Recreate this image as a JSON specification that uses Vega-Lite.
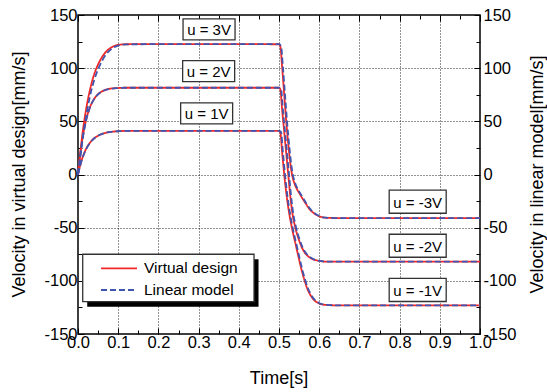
{
  "$schema": "https://vega.github.io/schema/vega-lite/v6.json",
  "width": 402,
  "height": 319,
  "autosize": {"type": "none"},
  "padding": {"left": 78, "top": 15, "right": 67, "bottom": 58},
  "background": "white",
  "config": {
    "font": "Liberation Sans",
    "view": {"stroke": "black", "strokeWidth": 1.5},
    "axis": {
      "labelFont": "Liberation Sans",
      "titleFont": "Liberation Sans",
      "labelColor": "black",
      "titleColor": "black",
      "tickColor": "black",
      "titleFontWeight": "normal",
      "labelFontSize": 16.5,
      "titleFontSize": 18,
      "domain": false,
      "labelFlush": false,
      "labelOverlap": false,
      "tickWidth": 1
    },
    "legend": {
      "labelFont": "Liberation Sans",
      "labelFontSize": 15.5,
      "labelColor": "black"
    }
  },
  "datasets": {
    "curves": [
      {"m":"Virtual design","c":"A","t":0,"v":0},{"m":"Virtual design","c":"A","t":0.005,"v":18},{"m":"Virtual design","c":"A","t":0.01,"v":35},{"m":"Virtual design","c":"A","t":0.02,"v":61},{"m":"Virtual design","c":"A","t":0.03,"v":80},{"m":"Virtual design","c":"A","t":0.04,"v":94},{"m":"Virtual design","c":"A","t":0.05,"v":103.5},{"m":"Virtual design","c":"A","t":0.06,"v":110.5},{"m":"Virtual design","c":"A","t":0.07,"v":115.5},{"m":"Virtual design","c":"A","t":0.08,"v":118.8},{"m":"Virtual design","c":"A","t":0.09,"v":120.8},{"m":"Virtual design","c":"A","t":0.1,"v":121.9},{"m":"Virtual design","c":"A","t":0.12,"v":122.5},{"m":"Virtual design","c":"A","t":0.2,"v":122.6},{"m":"Virtual design","c":"A","t":0.5,"v":122.5},{"m":"Virtual design","c":"A","t":0.503,"v":121},{"m":"Virtual design","c":"A","t":0.508,"v":100},{"m":"Virtual design","c":"A","t":0.513,"v":75},{"m":"Virtual design","c":"A","t":0.518,"v":50},{"m":"Virtual design","c":"A","t":0.524,"v":25},{"m":"Virtual design","c":"A","t":0.529,"v":8},{"m":"Virtual design","c":"A","t":0.5335,"v":-2},{"m":"Virtual design","c":"A","t":0.539,"v":-9},{"m":"Virtual design","c":"A","t":0.545,"v":-14},{"m":"Virtual design","c":"A","t":0.552,"v":-18.5},{"m":"Virtual design","c":"A","t":0.565,"v":-26.5},{"m":"Virtual design","c":"A","t":0.577,"v":-33},{"m":"Virtual design","c":"A","t":0.59,"v":-37.3},{"m":"Virtual design","c":"A","t":0.6,"v":-39.3},{"m":"Virtual design","c":"A","t":0.615,"v":-40.6},{"m":"Virtual design","c":"A","t":0.65,"v":-41},{"m":"Virtual design","c":"A","t":1,"v":-41},
      {"m":"Virtual design","c":"B","t":0,"v":0},{"m":"Virtual design","c":"B","t":0.005,"v":17},{"m":"Virtual design","c":"B","t":0.01,"v":31},{"m":"Virtual design","c":"B","t":0.02,"v":51},{"m":"Virtual design","c":"B","t":0.03,"v":63.5},{"m":"Virtual design","c":"B","t":0.04,"v":71},{"m":"Virtual design","c":"B","t":0.05,"v":75.5},{"m":"Virtual design","c":"B","t":0.06,"v":78.2},{"m":"Virtual design","c":"B","t":0.07,"v":79.8},{"m":"Virtual design","c":"B","t":0.08,"v":80.7},{"m":"Virtual design","c":"B","t":0.1,"v":81.3},{"m":"Virtual design","c":"B","t":0.12,"v":81.6},{"m":"Virtual design","c":"B","t":0.5,"v":81.6},{"m":"Virtual design","c":"B","t":0.503,"v":80.5},{"m":"Virtual design","c":"B","t":0.508,"v":60},{"m":"Virtual design","c":"B","t":0.513,"v":40},{"m":"Virtual design","c":"B","t":0.518,"v":20},{"m":"Virtual design","c":"B","t":0.523,"v":0},{"m":"Virtual design","c":"B","t":0.528,"v":-20},{"m":"Virtual design","c":"B","t":0.534,"v":-38},{"m":"Virtual design","c":"B","t":0.54,"v":-49},{"m":"Virtual design","c":"B","t":0.55,"v":-62},{"m":"Virtual design","c":"B","t":0.56,"v":-71},{"m":"Virtual design","c":"B","t":0.572,"v":-76.8},{"m":"Virtual design","c":"B","t":0.585,"v":-79.8},{"m":"Virtual design","c":"B","t":0.6,"v":-81.3},{"m":"Virtual design","c":"B","t":0.615,"v":-81.9},{"m":"Virtual design","c":"B","t":0.65,"v":-82},{"m":"Virtual design","c":"B","t":1,"v":-82},
      {"m":"Virtual design","c":"C","t":0,"v":0},{"m":"Virtual design","c":"C","t":0.005,"v":8},{"m":"Virtual design","c":"C","t":0.01,"v":14.5},{"m":"Virtual design","c":"C","t":0.02,"v":24},{"m":"Virtual design","c":"C","t":0.03,"v":30},{"m":"Virtual design","c":"C","t":0.04,"v":34},{"m":"Virtual design","c":"C","t":0.05,"v":36.5},{"m":"Virtual design","c":"C","t":0.06,"v":38.2},{"m":"Virtual design","c":"C","t":0.07,"v":39.3},{"m":"Virtual design","c":"C","t":0.08,"v":40},{"m":"Virtual design","c":"C","t":0.1,"v":40.7},{"m":"Virtual design","c":"C","t":0.12,"v":41},{"m":"Virtual design","c":"C","t":0.5,"v":41},{"m":"Virtual design","c":"C","t":0.503,"v":40},{"m":"Virtual design","c":"C","t":0.508,"v":20},{"m":"Virtual design","c":"C","t":0.513,"v":0},{"m":"Virtual design","c":"C","t":0.519,"v":-20},{"m":"Virtual design","c":"C","t":0.526,"v":-38},{"m":"Virtual design","c":"C","t":0.532,"v":-50},{"m":"Virtual design","c":"C","t":0.541,"v":-65},{"m":"Virtual design","c":"C","t":0.55,"v":-80},{"m":"Virtual design","c":"C","t":0.557,"v":-91},{"m":"Virtual design","c":"C","t":0.563,"v":-99},{"m":"Virtual design","c":"C","t":0.57,"v":-107},{"m":"Virtual design","c":"C","t":0.58,"v":-114.5},{"m":"Virtual design","c":"C","t":0.59,"v":-119},{"m":"Virtual design","c":"C","t":0.6,"v":-121.3},{"m":"Virtual design","c":"C","t":0.615,"v":-122.6},{"m":"Virtual design","c":"C","t":0.64,"v":-123},{"m":"Virtual design","c":"C","t":1,"v":-123},
      {"m":"Linear model","c":"A","t":0,"v":0},{"m":"Linear model","c":"A","t":0.005,"v":14},{"m":"Linear model","c":"A","t":0.01,"v":29},{"m":"Linear model","c":"A","t":0.02,"v":54},{"m":"Linear model","c":"A","t":0.03,"v":74},{"m":"Linear model","c":"A","t":0.04,"v":88.5},{"m":"Linear model","c":"A","t":0.05,"v":99},{"m":"Linear model","c":"A","t":0.06,"v":107},{"m":"Linear model","c":"A","t":0.07,"v":113},{"m":"Linear model","c":"A","t":0.08,"v":117},{"m":"Linear model","c":"A","t":0.09,"v":119.8},{"m":"Linear model","c":"A","t":0.1,"v":121.3},{"m":"Linear model","c":"A","t":0.12,"v":122.3},{"m":"Linear model","c":"A","t":0.2,"v":122.6},{"m":"Linear model","c":"A","t":0.5,"v":122.6},{"m":"Linear model","c":"A","t":0.505,"v":121},{"m":"Linear model","c":"A","t":0.51,"v":100},{"m":"Linear model","c":"A","t":0.515,"v":75},{"m":"Linear model","c":"A","t":0.52,"v":50},{"m":"Linear model","c":"A","t":0.526,"v":25},{"m":"Linear model","c":"A","t":0.531,"v":8},{"m":"Linear model","c":"A","t":0.5355,"v":-2},{"m":"Linear model","c":"A","t":0.541,"v":-9},{"m":"Linear model","c":"A","t":0.547,"v":-14},{"m":"Linear model","c":"A","t":0.554,"v":-18.5},{"m":"Linear model","c":"A","t":0.567,"v":-26.5},{"m":"Linear model","c":"A","t":0.579,"v":-33},{"m":"Linear model","c":"A","t":0.592,"v":-37.3},{"m":"Linear model","c":"A","t":0.602,"v":-39.3},{"m":"Linear model","c":"A","t":0.617,"v":-40.6},{"m":"Linear model","c":"A","t":0.65,"v":-41},{"m":"Linear model","c":"A","t":1,"v":-41},
      {"m":"Linear model","c":"B","t":0,"v":0},{"m":"Linear model","c":"B","t":0.005,"v":16},{"m":"Linear model","c":"B","t":0.01,"v":30},{"m":"Linear model","c":"B","t":0.02,"v":50.5},{"m":"Linear model","c":"B","t":0.03,"v":63.2},{"m":"Linear model","c":"B","t":0.04,"v":70.9},{"m":"Linear model","c":"B","t":0.05,"v":75.4},{"m":"Linear model","c":"B","t":0.06,"v":78.1},{"m":"Linear model","c":"B","t":0.07,"v":79.7},{"m":"Linear model","c":"B","t":0.08,"v":80.6},{"m":"Linear model","c":"B","t":0.1,"v":81.3},{"m":"Linear model","c":"B","t":0.12,"v":81.6},{"m":"Linear model","c":"B","t":0.5,"v":81.6},{"m":"Linear model","c":"B","t":0.505,"v":80.5},{"m":"Linear model","c":"B","t":0.51,"v":60},{"m":"Linear model","c":"B","t":0.515,"v":40},{"m":"Linear model","c":"B","t":0.52,"v":20},{"m":"Linear model","c":"B","t":0.525,"v":0},{"m":"Linear model","c":"B","t":0.53,"v":-20},{"m":"Linear model","c":"B","t":0.536,"v":-38},{"m":"Linear model","c":"B","t":0.542,"v":-49},{"m":"Linear model","c":"B","t":0.552,"v":-62},{"m":"Linear model","c":"B","t":0.562,"v":-71},{"m":"Linear model","c":"B","t":0.574,"v":-76.8},{"m":"Linear model","c":"B","t":0.587,"v":-79.8},{"m":"Linear model","c":"B","t":0.602,"v":-81.3},{"m":"Linear model","c":"B","t":0.617,"v":-81.9},{"m":"Linear model","c":"B","t":0.65,"v":-82},{"m":"Linear model","c":"B","t":1,"v":-82},
      {"m":"Linear model","c":"C","t":0,"v":0},{"m":"Linear model","c":"C","t":0.005,"v":7.5},{"m":"Linear model","c":"C","t":0.01,"v":14},{"m":"Linear model","c":"C","t":0.02,"v":23.6},{"m":"Linear model","c":"C","t":0.03,"v":29.8},{"m":"Linear model","c":"C","t":0.04,"v":33.9},{"m":"Linear model","c":"C","t":0.05,"v":36.5},{"m":"Linear model","c":"C","t":0.06,"v":38.2},{"m":"Linear model","c":"C","t":0.07,"v":39.3},{"m":"Linear model","c":"C","t":0.08,"v":40},{"m":"Linear model","c":"C","t":0.1,"v":40.7},{"m":"Linear model","c":"C","t":0.12,"v":41},{"m":"Linear model","c":"C","t":0.5,"v":41},{"m":"Linear model","c":"C","t":0.505,"v":40},{"m":"Linear model","c":"C","t":0.51,"v":20},{"m":"Linear model","c":"C","t":0.515,"v":0},{"m":"Linear model","c":"C","t":0.521,"v":-20},{"m":"Linear model","c":"C","t":0.528,"v":-38},{"m":"Linear model","c":"C","t":0.534,"v":-50},{"m":"Linear model","c":"C","t":0.543,"v":-65},{"m":"Linear model","c":"C","t":0.552,"v":-80},{"m":"Linear model","c":"C","t":0.559,"v":-91},{"m":"Linear model","c":"C","t":0.565,"v":-99},{"m":"Linear model","c":"C","t":0.572,"v":-107},{"m":"Linear model","c":"C","t":0.582,"v":-114.5},{"m":"Linear model","c":"C","t":0.592,"v":-119},{"m":"Linear model","c":"C","t":0.602,"v":-121.3},{"m":"Linear model","c":"C","t":0.617,"v":-122.6},{"m":"Linear model","c":"C","t":0.64,"v":-123},{"m":"Linear model","c":"C","t":1,"v":-123}
    ],
    "labels": [
      {"label": "u = 3V", "t": 0.326, "v": 136.4},
      {"label": "u = 2V", "t": 0.325, "v": 97.3},
      {"label": "u = 1V", "t": 0.32, "v": 57.4},
      {"label": "u = -3V", "t": 0.845, "v": -25.6},
      {"label": "u = -2V", "t": 0.845, "v": -67},
      {"label": "u = -1V", "t": 0.845, "v": -108.6}
    ],
    "legendbox": [{"t": 0.2248, "v": -97.3}]
  },
  "layer": [
    {
      "data": {"name": "curves"},
      "mark": {"type": "line", "interpolate": "monotone", "strokeWidth": 1.8},
      "encoding": {
        "x": {
          "field": "t", "type": "quantitative",
          "scale": {"domain": [0, 1], "nice": false, "zero": false},
          "axis": {
            "orient": "bottom",
            "values": [0,0.05,0.1,0.15,0.2,0.25,0.3,0.35,0.4,0.45,0.5,0.55,0.6,0.65,0.7,0.75,0.8,0.85,0.9,0.95,1],
            "grid": true,
            "gridColor": "black",
            "gridDash": [1, 2],
            "gridWidth": 1,
            "gridOpacity": {"condition": {"test": "round(datum.value*20)%2===0 && datum.value>0.01 && datum.value<0.99", "value": 0.85}, "value": 0},
            "tickSize": {"condition": {"test": "round(datum.value*20)%2===0", "value": -6}, "value": -4},
            "labelExpr": "round(datum.value*20)%2===0 ? format(datum.value,'.1f') : ''",
            "labelPadding": 6,
            "title": "Time[s]",
            "titleX": 200.5,
            "titleY": 49,
            "titleBaseline": "alphabetic",
            "titleAlign": "center"
          }
        },
        "y": {
          "field": "v", "type": "quantitative",
          "scale": {"domain": [-150, 150], "nice": false, "zero": false},
          "axis": {
            "orient": "left",
            "values": [-150,-125,-100,-75,-50,-25,0,25,50,75,100,125,150],
            "grid": true,
            "gridColor": "black",
            "gridDash": [1, 2],
            "gridWidth": 1,
            "gridOpacity": {"condition": {"test": "datum.value%50===0 && abs(datum.value)<149", "value": 0.85}, "value": 0},
            "tickSize": {"condition": {"test": "datum.value%50===0", "value": -6}, "value": -4},
            "labelExpr": "datum.value%50===0 ? '' + datum.value : ''",
            "labelPadding": 7,
            "title": "Velocity in virtual design[mm/s]",
            "titleAngle": 270,
            "titleX": -54,
            "titleY": 159,
            "titleBaseline": "alphabetic",
            "titleAlign": "center"
          }
        },
        "color": {
          "field": "m", "type": "nominal",
          "scale": {"domain": ["Virtual design", "Linear model"], "range": ["#f02828", "#3f55b0"]},
          "legend": {
            "orient": "none",
            "legendX": 22,
            "legendY": 245.3,
            "title": null,
            "symbolType": "stroke",
            "symbolSize": 1296,
            "symbolStrokeWidth": 1.8,
            "labelOffset": 6,
            "clipHeight": 16,
            "rowPadding": 4.7,
            "padding": 0
          }
        },
        "strokeDash": {
          "field": "m", "type": "nominal",
          "scale": {"domain": ["Virtual design", "Linear model"], "range": [[1, 0], [6, 3]]},
          "legend": {
            "orient": "none",
            "legendX": 22,
            "legendY": 245.3,
            "title": null,
            "symbolType": "stroke",
            "symbolSize": 1296,
            "symbolStrokeWidth": 1.8,
            "labelOffset": 6,
            "clipHeight": 16,
            "rowPadding": 4.7,
            "padding": 0
          }
        },
        "detail": {"field": "c", "type": "nominal"}
      }
    },
    {
      "data": {"name": "labels"},
      "mark": {"type": "point", "shape": "M-1,-0.404H1V0.404H-1Z", "filled": true, "fill": "white", "stroke": "#333333", "strokeWidth": 1.3, "opacity": 1},
      "encoding": {
        "x": {
          "field": "t", "type": "quantitative",
          "axis": {
            "orient": "top",
            "values": [0,0.05,0.1,0.15,0.2,0.25,0.3,0.35,0.4,0.45,0.5,0.55,0.6,0.65,0.7,0.75,0.8,0.85,0.9,0.95,1],
            "grid": false,
            "labels": false,
            "title": null,
            "tickSize": {"condition": {"test": "round(datum.value*20)%2===0", "value": -6}, "value": -4}
          }
        },
        "y": {
          "field": "v", "type": "quantitative",
          "axis": {
            "orient": "right",
            "values": [-150,-125,-100,-75,-50,-25,0,25,50,75,100,125,150],
            "grid": false,
            "tickSize": {"condition": {"test": "datum.value%50===0", "value": -6}, "value": -4},
            "labelExpr": "datum.value%50===0 ? '' + datum.value : ''",
            "labelPadding": 9,
            "title": "Velocity in linear model[mm/s]",
            "titleAngle": 270,
            "titleX": 62.5,
            "titleY": 159,
            "titleBaseline": "alphabetic",
            "titleAlign": "center"
          }
        },
        "size": {"condition": {"test": "datum.v < 0", "value": 3249}, "value": 2704}
      }
    },
    {
      "data": {"name": "labels"},
      "mark": {"type": "text", "font": "Liberation Sans", "fontSize": 15, "baseline": "middle", "align": "center", "color": "black", "dy": 1},
      "encoding": {
        "x": {"field": "t", "type": "quantitative", "axis": null},
        "y": {"field": "v", "type": "quantitative", "axis": null},
        "text": {"field": "label", "type": "nominal"}
      }
    },
    {
      "data": {"name": "legendbox"},
      "mark": {"type": "point", "shape": "M-1,-0.2767H1V0.2767H-1Z", "filled": true, "fill": "black", "strokeWidth": 0, "opacity": 1, "size": 29344, "xOffset": 4.5, "yOffset": 5},
      "encoding": {
        "x": {"field": "t", "type": "quantitative", "axis": null},
        "y": {"field": "v", "type": "quantitative", "axis": null}
      }
    },
    {
      "data": {"name": "legendbox"},
      "mark": {"type": "point", "shape": "M-1,-0.2767H1V0.2767H-1Z", "filled": true, "fill": "white", "stroke": "#333333", "strokeWidth": 1.3, "opacity": 1, "size": 29344},
      "encoding": {
        "x": {"field": "t", "type": "quantitative", "axis": null},
        "y": {"field": "v", "type": "quantitative", "axis": null}
      }
    }
  ],
  "resolve": {"axis": {"x": "independent", "y": "independent"}}
}
